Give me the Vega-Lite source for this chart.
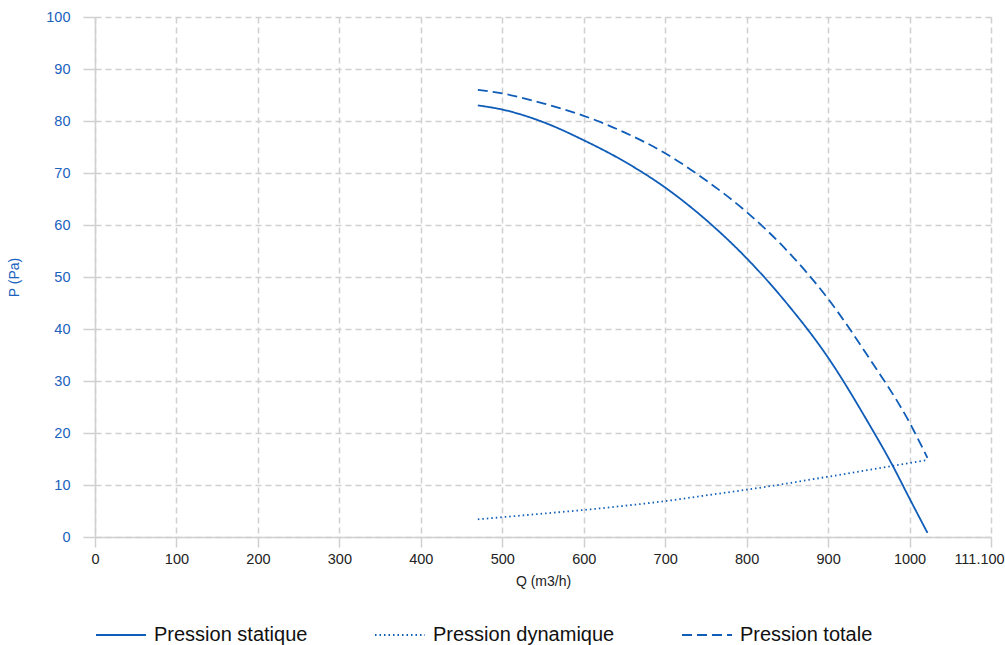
{
  "$schema": "https://vega.github.io/schema/vega-lite/v6.json",
  "width": 896,
  "height": 520,
  "autosize": {"type": "none"},
  "padding": {"left": 95, "top": 17, "right": 14, "bottom": 108},
  "background": "#ffffff",
  "config": {
    "view": {"stroke": null},
    "font": "Liberation Sans",
    "axis": {"gridColor": "#d0d0d0", "gridDash": [6, 4], "gridWidth": 1.5, "domainColor": "#d0d0d0", "domainWidth": 1.5, "tickColor": "#d0d0d0", "tickWidth": 1.5, "labelFont": "Liberation Sans", "titleFont": "Liberation Sans", "titleFontWeight": "normal"}
  },
  "data": {
    "values": [
      {"q": 470, "p": 83.0, "s": "Pression statique"},
      {"q": 500, "p": 82.2, "s": "Pression statique"},
      {"q": 550, "p": 79.8, "s": "Pression statique"},
      {"q": 600, "p": 76.3, "s": "Pression statique"},
      {"q": 650, "p": 72.2, "s": "Pression statique"},
      {"q": 700, "p": 67.2, "s": "Pression statique"},
      {"q": 750, "p": 61.0, "s": "Pression statique"},
      {"q": 800, "p": 53.6, "s": "Pression statique"},
      {"q": 850, "p": 44.8, "s": "Pression statique"},
      {"q": 900, "p": 34.5, "s": "Pression statique"},
      {"q": 950, "p": 21.8, "s": "Pression statique"},
      {"q": 979, "p": 13.8, "s": "Pression statique"},
      {"q": 1000, "p": 7.4, "s": "Pression statique"},
      {"q": 1022, "p": 0.8, "s": "Pression statique"},
      {"q": 470, "p": 3.4, "s": "Pression dynamique"},
      {"q": 550, "p": 4.5, "s": "Pression dynamique"},
      {"q": 600, "p": 5.2, "s": "Pression dynamique"},
      {"q": 650, "p": 6.0, "s": "Pression dynamique"},
      {"q": 700, "p": 6.9, "s": "Pression dynamique"},
      {"q": 750, "p": 8.0, "s": "Pression dynamique"},
      {"q": 800, "p": 9.1, "s": "Pression dynamique"},
      {"q": 850, "p": 10.3, "s": "Pression dynamique"},
      {"q": 900, "p": 11.6, "s": "Pression dynamique"},
      {"q": 950, "p": 12.9, "s": "Pression dynamique"},
      {"q": 1022, "p": 14.8, "s": "Pression dynamique"},
      {"q": 470, "p": 86.0, "s": "Pression totale"},
      {"q": 500, "p": 85.3, "s": "Pression totale"},
      {"q": 550, "p": 83.4, "s": "Pression totale"},
      {"q": 600, "p": 81.0, "s": "Pression totale"},
      {"q": 650, "p": 77.8, "s": "Pression totale"},
      {"q": 700, "p": 73.8, "s": "Pression totale"},
      {"q": 750, "p": 68.6, "s": "Pression totale"},
      {"q": 800, "p": 62.5, "s": "Pression totale"},
      {"q": 850, "p": 55.0, "s": "Pression totale"},
      {"q": 900, "p": 45.8, "s": "Pression totale"},
      {"q": 950, "p": 34.5, "s": "Pression totale"},
      {"q": 1000, "p": 22.0, "s": "Pression totale"},
      {"q": 1022, "p": 15.2, "s": "Pression totale"}
    ]
  },
  "mark": {"type": "line", "interpolate": "monotone", "strokeWidth": 1.8, "color": "#0f5db8"},
  "encoding": {
    "x": {
      "field": "q", "type": "quantitative",
      "scale": {"domain": [0, 1100], "nice": false, "zero": true},
      "axis": {
        "values": [0, 100, 200, 300, 400, 500, 600, 700, 800, 900, 1000, 1100],
        "labelExpr": "datum.value == 1100 ? '111.100' : datum.value",
        "labelOffset": {"condition": {"test": "datum.value == 1100", "value": -12}, "value": 0},
        "title": "Q (m3/h)", "titleFontSize": 14, "titleColor": "#222222", "titlePadding": 9,
        "labelFontSize": 14.5, "labelColor": "#222222", "labelPadding": 5, "tickSize": 10, "labelFlush": false
      }
    },
    "y": {
      "field": "p", "type": "quantitative",
      "scale": {"domain": [0, 100], "nice": false},
      "axis": {
        "values": [0, 10, 20, 30, 40, 50, 60, 70, 80, 90, 100],
        "title": "P (Pa)", "titleFontSize": 14, "titleColor": "#1a62bd", "titlePadding": 24,
        "labelFontSize": 14.5, "labelColor": "#1a62bd", "labelPadding": 13, "tickSize": 12, "labelFlush": false
      }
    },
    "strokeDash": {
      "field": "s", "type": "nominal",
      "scale": {"domain": ["Pression statique", "Pression dynamique", "Pression totale"], "range": [[1, 0], [1.5, 3], [10, 5]]},
      "legend": {
        "title": null, "orient": "none", "legendX": 0, "legendY": 592, "direction": "horizontal",
        "symbolType": "stroke", "symbolSize": 2500, "symbolStrokeWidth": 1.8, "symbolStrokeColor": "#0f5db8",
        "labelFontSize": 20, "labelColor": "#111111", "labelFont": "Liberation Sans", "labelLimit": 400, "columnPadding": 63, "labelOffset": 7
      }
    }
  }
}
